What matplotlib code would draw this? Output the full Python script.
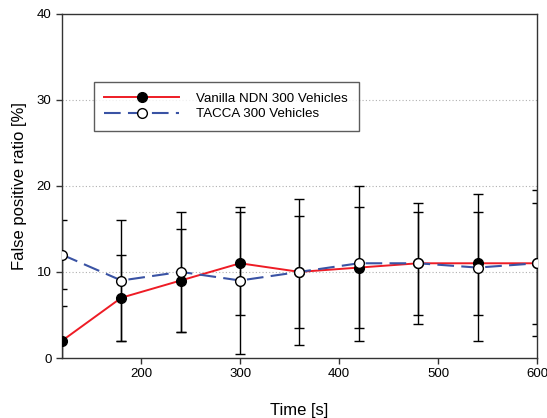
import matplotlib
matplotlib.use('Agg')
import matplotlib.pyplot as plt

plt.rcParams['font.family'] = ['Liberation Sans', 'DejaVu Sans']

# data
time_s = [120, 180, 240, 300, 360, 420, 480, 540, 600]
vanilla = [2, 7, 9, 11, 10, 10.5, 11, 11, 11]
vanilla_err = [4, 5, 6, 6, 8.5, 7, 6, 6, 8.5]
tacca = [12, 9, 10, 9, 10, 11, 11, 10.5, 11]
tacca_err = [4, 7, 7, 8.5, 6.5, 9, 7, 8.5, 7]

fig = plt.figure(figsize=(5.47, 4.18), dpi=100)
ax = fig.add_axes([0.1133, 0.1435, 0.8684, 0.8242])

for y in (10, 20, 30):
    ax.axhline(y, color='#b0b0b0', linestyle=(0, (1, 2)), linewidth=0.8, zorder=0)

ax.errorbar(time_s, vanilla, yerr=vanilla_err, fmt='none', ecolor='black',
            elinewidth=1.0, capsize=3.8, capthick=1.0, zorder=2)
ax.errorbar(time_s, tacca, yerr=tacca_err, fmt='none', ecolor='black',
            elinewidth=1.0, capsize=3.8, capthick=1.0, zorder=2)

ax.plot(time_s, vanilla, color='#ee1c25', linewidth=1.4, marker='o', markersize=7,
        markerfacecolor='black', markeredgecolor='black', label='Vanilla NDN 300 Vehicles', zorder=3)
ax.plot(time_s, tacca, color='#3a53a4', linewidth=1.5, linestyle=(0, (8, 3.5)), marker='o',
        markersize=7, markerfacecolor='white', markeredgecolor='black', markeredgewidth=1.0,
        label='TACCA 300 Vehicles', zorder=4)

ax.set_xlim(120, 600)
ax.set_ylim(0, 40)
ax.set_xticks([200, 300, 400, 500, 600])
ax.set_yticks([0, 10, 20, 30, 40])
ax.tick_params(direction='out', length=4, width=1, labelsize=9.5, color='#333333')
for s in ax.spines.values():
    s.set_linewidth(1.0)
    s.set_color('#333333')

ax.set_xlabel('Time [s]', fontsize=12, labelpad=16)
ax.set_ylabel('False positive ratio [%]', fontsize=12, labelpad=7)

leg = ax.legend(loc='upper left', bbox_to_anchor=(0.067, 0.802), fontsize=9.6, frameon=True,
                fancybox=False, edgecolor='#333333', handlelength=5.6, borderpad=0.8,
                labelspacing=0.25, handletextpad=1.3, borderaxespad=0)
leg.get_frame().set_linewidth(1.0)

fig.savefig('out.png', dpi=100)
